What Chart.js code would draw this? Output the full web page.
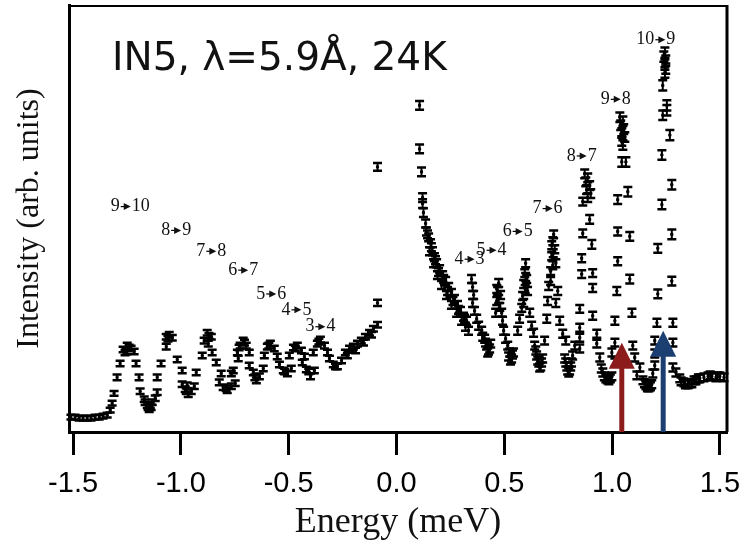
<!DOCTYPE html>
<html>
<head>
<meta charset="utf-8">
<script src="https://cdn.jsdelivr.net/npm/chart.js@4"></script>
<style>
  html, body { margin: 0; padding: 0; background: #fff; }
  #wrap { width: 746px; height: 550px; }
</style>
</head>
<body>
<div id="wrap"><canvas id="spectrum"></canvas></div>
<script>
// energy (meV), intensity (arb.), error  -- energy-loss side
const lossPoints = [
  [-1.510, 3.75, 0.6], [-1.491, 3.75, 0.6], [-1.472, 3.5, 0.6], [-1.454, 3.5, 0.6],
  [-1.435, 3.5, 0.6], [-1.417, 3.5, 0.6], [-1.398, 3.75, 0.6], [-1.379, 3.75, 0.6],
  [-1.361, 4, 0.6], [-1.342, 4.25, 0.6], [-1.328, 5.5, 0.6], [-1.319, 7.25, 0.6],
  [-1.310, 9.75, 0.6], [-1.296, 13.75, 0.7], [-1.282, 17.25, 0.7],
  [-1.268, 20.75, 0.7], [-1.259, 20, 0.7], [-1.249, 21.75, 0.7], [-1.231, 21, 0.7],
  [-1.217, 20.25, 0.7], [-1.208, 17.25, 0.7], [-1.194, 13.75, 0.7], [-1.189, 10.25, 0.7],
  [-1.170, 8.25, 0.7], [-1.166, 7.5, 0.7], [-1.156, 6.75, 0.7], [-1.147, 5.75, 0.7],
  [-1.138, 6.25, 0.7], [-1.133, 7.5, 0.7], [-1.119, 8.5, 0.7], [-1.110, 10, 0.7],
  [-1.110, 13.75, 0.7], [-1.092, 17.25, 0.7], [-1.068, 21.5, 0.7],
  [-1.068, 24, 0.7], [-1.054, 24.5, 0.7], [-1.040, 23.75, 0.7], [-1.017, 18.25, 0.7],
  [-0.994, 15.5, 0.7], [-0.994, 12, 0.7], [-0.980, 10.75, 0.7], [-0.971, 11.75, 0.7],
  [-0.966, 9.5, 0.7], [-0.952, 10.25, 0.7], [-0.938, 11.5, 0.7], [-0.929, 15, 0.7],
  [-0.901, 19.25, 0.7], [-0.892, 23, 0.7], [-0.878, 25, 0.7], [-0.873, 22.25, 0.7],
  [-0.859, 24, 0.7], [-0.855, 20, 0.7], [-0.836, 17.5, 0.7], [-0.813, 14.75, 0.7],
  [-0.822, 12.5, 0.7], [-0.804, 11.25, 0.7], [-0.785, 10.5, 0.7], [-0.766, 11.5, 0.7],
  [-0.748, 12.25, 0.7], [-0.766, 14.75, 0.7], [-0.757, 15.5, 0.7],
  [-0.734, 18.5, 0.7], [-0.738, 20, 0.7], [-0.725, 21.75, 0.7], [-0.711, 23, 0.7],
  [-0.697, 21.75, 0.7], [-0.683, 20, 0.7], [-0.683, 16.75, 0.7], [-0.664, 15, 0.7],
  [-0.650, 13, 0.7], [-0.636, 14, 0.7], [-0.618, 16, 0.7],
  [-0.613, 19.25, 0.7], [-0.599, 21.5, 0.7], [-0.585, 22.25, 0.7], [-0.567, 21, 0.7],
  [-0.553, 19, 0.7], [-0.543, 17, 0.7], [-0.525, 15.5, 0.7], [-0.506, 14.75, 0.7],
  [-0.488, 16, 0.7], [-0.497, 19.25, 0.7], [-0.478, 21.25, 0.7], [-0.460, 21.75, 0.7],
  [-0.441, 20.5, 0.7], [-0.427, 19, 0.7], [-0.437, 17.5, 0.7], [-0.418, 15.75, 0.7],
  [-0.399, 14, 0.7], [-0.381, 15.5, 0.7], [-0.386, 20, 0.7], [-0.367, 22.25, 0.7],
  [-0.353, 23.25, 0.7], [-0.334, 21.75, 0.7], [-0.320, 20, 0.7], [-0.311, 18.5, 0.7],
  [-0.293, 17, 0.7], [-0.274, 16.5, 0.7], [-0.255, 18, 0.7],
  [-0.237, 20, 0.7], [-0.228, 19.25, 0.7], [-0.218, 21, 0.7], [-0.200, 21.5, 0.7],
  [-0.190, 20.5, 0.7], [-0.181, 22.25, 0.7], [-0.163, 23, 0.7], [-0.153, 22.5, 0.7],
  [-0.144, 24, 0.7], [-0.125, 25, 0.7], [-0.116, 24.5, 0.7], [-0.107, 26, 0.7],
  [-0.088, 27, 0.7], [-0.088, 32.5, 0.8], [-0.088, 66.75, 1.0],
  [-1.250, 20.25, 0.7], [-1.240, 21.25, 0.7], [-1.152, 6.25, 0.7], [-1.142, 6.75, 0.7],
  [-1.060, 23.5, 0.7], [-0.975, 10.25, 0.7], [-0.870, 24.25, 0.7], [-0.790, 11, 0.7],
  [-0.730, 21.25, 0.7], [-0.705, 22.5, 0.7], [-0.657, 13.75, 0.7], [-0.592, 21.75, 0.7],
  [-0.519, 15.25, 0.7], [-0.469, 21, 0.7], [-0.407, 15.25, 0.7], [-0.360, 22.75, 0.7],
  [-0.283, 16.5, 0.7]
];

// energy-gain side
const gainPoints = [
  [0.107, 82.25, 1.1], [0.107, 71.25, 1.1], [0.116, 65.5, 1.1], [0.121, 59, 1.1],
  [0.121, 57.5, 1.1], [0.125, 55.25, 1.1], [0.135, 52.5, 1.0], [0.139, 50.5, 1.0],
  [0.149, 49, 1.0], [0.158, 47.5, 1.0], [0.167, 45.5, 1.0], [0.176, 44, 1.0],
  [0.186, 42.5, 1.0], [0.200, 41, 1.0], [0.214, 39.5, 1.0], [0.228, 38, 1.0],
  [0.242, 36.5, 1.0], [0.255, 35, 1.0], [0.269, 33.5, 1.0], [0.283, 32, 1.0],
  [0.297, 30.5, 1.0], [0.311, 29, 1.0], [0.325, 28, 1.0], [0.153, 45.5, 1.0],
  [0.172, 42.5, 1.0], [0.190, 39.5, 1.0], [0.209, 37, 1.0], [0.232, 34.5, 1.0],
  [0.255, 32, 1.0], [0.279, 30, 1.0], [0.302, 28, 1.0], [0.320, 26.5, 1.0],
  [0.334, 25.5, 1.0],
  [0.144, 49.75, 1.0], [0.162, 46.5, 1.0], [0.181, 43.25, 1.0], [0.195, 40.25, 1.0],
  [0.219, 38.5, 1.0], [0.237, 35.5, 1.0], [0.262, 33, 1.0], [0.288, 30.75, 1.0],
  [0.316, 28.5, 1.0],
  [0.348, 38.5, 1.0], [0.353, 36.5, 1.0], [0.358, 34.5, 1.0], [0.353, 32.5, 1.0],
  [0.362, 30.5, 1.0], [0.372, 28.5, 1.0], [0.381, 26.75, 1.0], [0.395, 25.5, 1.0],
  [0.409, 23.5, 1.0], [0.418, 21.75, 1.0], [0.427, 20.5, 1.0], [0.437, 22.25, 1.0],
  [0.400, 24, 1.0], [0.413, 22.5, 1.0], [0.423, 20, 1.0], [0.432, 21, 1.0],
  [0.460, 30, 1.0], [0.465, 33, 1.0], [0.469, 35.5, 1.0], [0.474, 37.5, 1.0],
  [0.483, 34.5, 1.0], [0.479, 31.5, 1.0], [0.492, 28, 1.0], [0.497, 25.5, 1.0],
  [0.506, 23.5, 1.0], [0.516, 21.75, 1.0], [0.525, 20, 1.0], [0.534, 18.5, 1.0],
  [0.543, 20, 1.0], [0.465, 36, 1.0], [0.474, 33.5, 1.0], [0.488, 30, 1.0],
  [0.520, 19, 1.0], [0.529, 18, 1.0], [0.538, 19.5, 1.0],
  [0.562, 25.5, 1.0], [0.571, 28.5, 1.0], [0.581, 31.25, 1.0], [0.585, 34.25, 1.0],
  [0.590, 37.25, 1.0], [0.595, 40, 1.0], [0.599, 42.5, 1.0], [0.604, 38.5, 1.0],
  [0.608, 35.5, 1.0], [0.618, 30, 1.0], [0.627, 26.75, 1.0], [0.636, 25, 1.0],
  [0.641, 21.75, 1.0], [0.650, 19.25, 1.0], [0.660, 17.5, 1.0], [0.669, 16.5, 1.0],
  [0.678, 18.5, 1.0], [0.590, 32.5, 1.0], [0.597, 36, 1.0], [0.599, 39, 1.0],
  [0.646, 20.5, 1.0], [0.655, 18, 1.0], [0.664, 16.25, 1.0], [0.673, 17.5, 1.0],
  [0.687, 23, 1.0], [0.697, 28.5, 1.0], [0.701, 33, 1.0], [0.706, 36.75, 1.0],
  [0.715, 40.5, 1.0], [0.720, 44.25, 1.0], [0.725, 48, 1.0], [0.729, 49.75, 1.0],
  [0.734, 46, 1.0], [0.739, 42.5, 1.0], [0.748, 35.5, 1.0], [0.739, 32.5, 1.0],
  [0.757, 28, 1.0], [0.771, 24.75, 1.0], [0.785, 23, 1.0], [0.780, 18.5, 1.0],
  [0.790, 16.5, 1.0], [0.799, 15, 1.0], [0.808, 16.5, 1.0], [0.817, 19.25, 1.0],
  [0.720, 47, 1.0], [0.727, 45, 1.0], [0.725, 42, 1.0], [0.715, 38, 1.0],
  [0.785, 17.5, 1.0], [0.794, 15.5, 1.0], [0.803, 15.5, 1.0], [0.812, 17.5, 1.0],
  [0.827, 21.75, 1.0], [0.850, 21, 1.0], [0.850, 23.75, 1.0], [0.850, 26.25, 1.0],
  [0.850, 31, 1.0], [0.859, 39.75, 1.0], [0.859, 43.75, 1.0], [0.864, 50, 1.0],
  [0.864, 58, 1.0], [0.873, 65, 1.1], [0.887, 64, 1.1], [0.878, 63, 1.1],
  [0.896, 62, 1.1], [0.882, 61, 1.1], [0.901, 60, 1.1], [0.887, 59, 1.1],
  [0.896, 53.5, 1.1], [0.906, 47.25, 1.1], [0.910, 40, 1.0], [0.910, 36.25, 1.0],
  [0.910, 29.25, 1.0], [0.929, 24.75, 1.0], [0.929, 22.25, 1.0], [0.943, 18.75, 1.0],
  [0.957, 15, 1.0], [0.971, 13.5, 1.0], [0.985, 13, 1.0], [0.999, 14, 1.0],
  [0.950, 16, 1.0], [0.964, 14, 1.0], [0.978, 13.25, 1.0], [0.992, 13.5, 1.0],
  [0.999, 20, 1.0], [1.013, 17.5, 1.0], [1.013, 22.5, 1.0], [1.013, 28, 1.0],
  [1.022, 35.5, 1.0], [1.026, 43, 1.0], [1.026, 50.5, 1.0], [1.026, 58.5, 1.1],
  [1.036, 79.25, 1.2], [1.050, 78.25, 1.2], [1.040, 77.25, 1.2], [1.054, 76.25, 1.2],
  [1.045, 75.25, 1.2], [1.059, 74.25, 1.2], [1.045, 73.25, 1.2], [1.050, 72.25, 1.2],
  [1.045, 68, 1.2], [1.064, 68, 1.2], [1.073, 60.5, 1.2], [1.082, 49.25, 1.1],
  [1.082, 38.5, 1.1], [1.092, 30, 1.0], [1.096, 21.75, 1.0], [1.105, 18.75, 1.0],
  [1.129, 16.25, 1.0], [1.115, 14.25, 1.0], [1.143, 13, 1.0], [1.157, 11.75, 1.0],
  [1.171, 11.25, 1.0], [1.184, 12, 1.0], [1.150, 12.25, 1.0], [1.164, 11.25, 1.0],
  [1.178, 11.5, 1.0],
  [1.189, 14.75, 1.0], [1.198, 16.75, 1.0], [1.198, 19.75, 1.0], [1.198, 23, 1.0],
  [1.208, 27.5, 1.0], [1.212, 34.75, 1.1], [1.212, 46.25, 1.1], [1.231, 57.25, 1.2],
  [1.231, 69.75, 1.2], [1.235, 79.75, 1.2], [1.235, 87.25, 1.3], [1.245, 95.5, 1.3],
  [1.240, 94.5, 1.3], [1.249, 93.5, 1.3], [1.245, 92.5, 1.3], [1.249, 91.5, 1.3],
  [1.245, 90.5, 1.3], [1.254, 82.25, 1.3], [1.254, 81, 1.3], [1.268, 74.75, 1.3],
  [1.277, 62.25, 1.2], [1.277, 49.75, 1.2], [1.277, 38, 1.1], [1.282, 27.5, 1.0],
  [1.282, 22.5, 1.0], [1.282, 16.25, 1.0], [1.296, 15, 1.0],
  [1.314, 13.5, 1.0], [1.333, 12.5, 1.0], [1.352, 12, 1.0], [1.370, 12.25, 1.0],
  [1.389, 13, 1.0], [1.407, 13.5, 1.0], [1.426, 13.75, 1.0], [1.445, 14, 1.0],
  [1.463, 14, 1.0], [1.482, 13.75, 1.0], [1.500, 14, 1.0], [1.519, 13.75, 1.0],
  [1.320, 12.75, 1.0], [1.340, 12, 1.0], [1.360, 12.25, 1.0], [1.380, 13, 1.0],
  [1.400, 13.5, 1.0], [1.455, 14.25, 1.0], [1.490, 14, 1.0]
];

const xTicks = [-1.5, -1.0, -0.5, 0.0, 0.5, 1.0, 1.5];

// transition labels: text, energy, intensity (centre of label)
const transLabels = ['9>10', '8>9', '7>8', '6>7', '5>6', '4>5', '3>4',
                     '4>3', '5>4', '6>5', '7>6', '8>7', '9>8', '10>9'];
const transE = [-1.235, -1.022, -0.859, -0.711, -0.581, -0.464, -0.353,
                0.339, 0.441, 0.562, 0.701, 0.859, 1.017, 1.203];
const transI = [56.75, 50.75, 45.5, 40.75, 34.75, 30.75, 26.5,
                43.5, 45.75, 50.5, 56.25, 69.5, 83.75, 98.75];

// marker arrows (red, blue)
const markerE = [1.045, 1.237];
const markerTop = [22.5, 25.5];
const markerColor = ['#8c1c1c', '#1c3f72'];

const titleText = 'IN5, \u03bb=5.9\u00c5, 24K';

const errorBars = {
  id: 'errorBars',
  afterDatasetsDraw(chart) {
    const {ctx, scales: {x, y}} = chart;
    ctx.save();
    ctx.strokeStyle = '#000';
    [lossPoints, gainPoints].forEach(pts => pts.forEach(([e, v, s]) => {
      const px = x.getPixelForValue(e);
      const top = y.getPixelForValue(v + s);
      const bot = y.getPixelForValue(v - s);
      ctx.lineWidth = 2;
      ctx.beginPath();
      ctx.moveTo(px, top); ctx.lineTo(px, bot);
      ctx.stroke();
      ctx.lineWidth = 2.5;
      ctx.beginPath();
      ctx.moveTo(px - 4.5, top); ctx.lineTo(px + 4.5, top);
      ctx.moveTo(px - 4.5, bot); ctx.lineTo(px + 4.5, bot);
      ctx.stroke();
    }));
    ctx.restore();
  }
};

const extras = {
  id: 'extras',
  afterDraw(chart) {
    const {ctx, chartArea: a, scales: {x, y}} = chart;
    ctx.save();

    // frame top / right
    ctx.strokeStyle = '#000';
    ctx.lineWidth = 2;
    ctx.beginPath();
    ctx.moveTo(a.left, a.top + 1);
    ctx.lineTo(a.right, a.top + 1);
    ctx.stroke();
    ctx.lineWidth = 3;
    ctx.beginPath();
    ctx.moveTo(a.right, a.top);
    ctx.lineTo(a.right, a.bottom);
    ctx.stroke();

    // title
    ctx.fillStyle = '#111';
    ctx.font = '39px "DejaVu Sans"';
    ctx.textBaseline = 'alphabetic';
    ctx.textAlign = 'left';
    ctx.fillText(titleText, a.left + 43, a.top + 65);

    // transition labels with little arrows
    ctx.font = '18px "Liberation Serif"';
    ctx.textBaseline = 'middle';
    transLabels.forEach((lab, i) => {
      const [from, to] = lab.split('>');
      const w1 = ctx.measureText(from).width;
      const w2 = ctx.measureText(to).width;
      const aw = 12;
      const total = w1 + aw + w2;
      const cx = x.getPixelForValue(transE[i]);
      const cy = y.getPixelForValue(transI[i]);
      let sx = cx - total / 2;
      ctx.fillText(from, sx, cy);
      sx += w1;
      ctx.beginPath();
      ctx.lineWidth = 1.2;
      ctx.moveTo(sx + 1, cy);
      ctx.lineTo(sx + 5, cy);
      ctx.stroke();
      ctx.beginPath();
      ctx.moveTo(sx + 4, cy - 3.5);
      ctx.lineTo(sx + 11, cy);
      ctx.lineTo(sx + 4, cy + 3.5);
      ctx.closePath();
      ctx.fill();
      ctx.fillText(to, sx + aw, cy);
    });

    // coloured arrows
    markerE.forEach((e, i) => {
      const px = x.getPixelForValue(e);
      const tip = y.getPixelForValue(markerTop[i]);
      ctx.fillStyle = markerColor[i];
      ctx.fillRect(px - 2.5, tip + 24, 5, a.bottom - tip - 24);
      ctx.beginPath();
      ctx.moveTo(px, tip);
      ctx.lineTo(px + 13, tip + 26);
      ctx.lineTo(px - 13, tip + 26);
      ctx.closePath();
      ctx.fill();
    });
    ctx.restore();
  }
};

const data = {
  datasets: [{
    label: 'loss',
    data: lossPoints.map(p => ({x: p[0], y: p[1]})),
    pointRadius: 1.5,
    pointStyle: 'rect',
    backgroundColor: '#000',
    borderColor: '#000',
    showLine: false
  }, {
    label: 'gain',
    data: gainPoints.map(p => ({x: p[0], y: p[1]})),
    pointRadius: 1.5,
    pointStyle: 'rect',
    backgroundColor: '#000',
    borderColor: '#000',
    showLine: false
  }]
};

const config = {
  type: 'scatter',
  data: data,
  options: {
    responsive: false,
    animation: false,
    maintainAspectRatio: false,
    layout: {
      padding: { top: 2, right: 19, left: 0, bottom: 0 }
    },
    plugins: {
      legend: { display: false },
      tooltip: { enabled: false }
    },
    scales: {
      x: {
        type: 'linear',
        min: -1.519,
        max: 1.533,
        afterFit: axis => {
          axis.height = 118;
          axis.paddingLeft = 0;
          axis.paddingRight = 0;
        },
        afterBuildTicks: axis => { axis.ticks = xTicks.map(v => ({value: v})); },
        grid: {
          drawOnChartArea: false,
          drawTicks: true,
          tickLength: 23,
          tickWidth: 3,
          tickColor: '#000'
        },
        border: { display: true, color: '#000', width: 3 },
        ticks: {
          color: '#000',
          padding: 12,
          maxRotation: 0,
          font: { family: '"Liberation Sans"', size: 29 },
          callback: v => v.toFixed(1)
        },
        title: {
          display: true,
          text: 'Energy (meV)',
          color: '#111',
          font: { family: '"Liberation Serif"', size: 36 },
          padding: { top: 0, bottom: 6 }
        }
      },
      y: {
        type: 'linear',
        min: 0,
        max: 107.5,
        afterFit: axis => { axis.width = 69; },
        grid: { display: false },
        border: { display: true, color: '#000', width: 3 },
        ticks: { display: false },
        title: {
          display: true,
          text: 'Intensity (arb. units)',
          color: '#111',
          font: { family: '"Liberation Serif"', size: 32 },
          padding: { top: 10, bottom: 0 }
        }
      }
    }
  },
  plugins: [errorBars, extras]
};

const canvas = document.getElementById('spectrum');
canvas.width = 746;
canvas.height = 550;
const spectrumChart = new Chart(canvas, config);
</script>
</body>
</html>
